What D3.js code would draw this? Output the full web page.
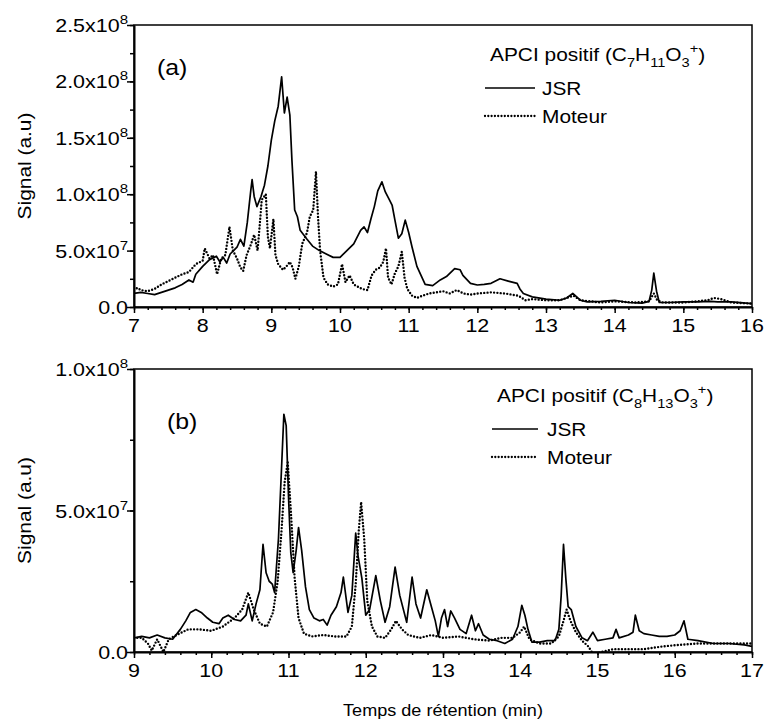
<!DOCTYPE html>
<html>
<head>
<meta charset="utf-8">
<script src="https://cdn.jsdelivr.net/npm/d3@7"></script>
<style>
  html, body { margin: 0; padding: 0; background: #fff; }
  svg text { font-family: "Liberation Sans", Arial, sans-serif; fill: #000; }
</style>
</head>
<body>
<div id="chart"></div>
<script>
// signal values are in units of 1e7 (a.u)
const jsrA = [[7.0,1.2],[7.1,1.3],[7.2,1.2],[7.3,1.1],[7.4,1.3],[7.5,1.5],[7.6,1.7],[7.7,2.0],[7.8,2.4],[7.86,2.2],[7.9,2.9],[8.0,3.6],[8.1,4.2],[8.2,4.5],[8.25,4.0],[8.3,4.4],[8.35,3.9],[8.4,4.7],[8.45,5.0],[8.5,5.3],[8.55,6.0],[8.6,5.4],[8.65,7.5],[8.7,10.3],[8.72,11.3],[8.75,9.8],[8.79,8.9],[8.85,9.8],[8.9,10.8],[8.95,12.5],[9.0,14.8],[9.05,16.5],[9.1,17.8],[9.15,20.4],[9.19,17.2],[9.23,18.6],[9.27,17.0],[9.3,13.0],[9.34,8.6],[9.38,8.0],[9.42,6.8],[9.47,6.4],[9.52,6.0],[9.6,5.4],[9.7,5.0],[9.8,4.7],[9.9,4.4],[10.0,4.4],[10.1,5.0],[10.2,5.6],[10.3,6.8],[10.35,7.1],[10.4,6.6],[10.45,7.8],[10.5,8.9],[10.55,10.3],[10.61,11.1],[10.66,10.2],[10.72,9.5],[10.76,9.0],[10.8,7.7],[10.85,6.1],[10.9,6.5],[10.95,7.7],[11.0,6.6],[11.05,5.3],[11.12,3.6],[11.24,2.0],[11.35,1.9],[11.46,2.4],[11.55,2.7],[11.67,3.4],[11.75,3.3],[11.79,2.8],[11.9,2.1],[12.0,1.95],[12.1,2.0],[12.2,2.1],[12.33,2.5],[12.45,2.3],[12.58,2.1],[12.62,1.6],[12.67,1.2],[12.8,0.9],[13.0,0.7],[13.2,0.6],[13.3,0.8],[13.39,1.2],[13.5,0.6],[13.6,0.45],[13.8,0.5],[14.0,0.6],[14.2,0.4],[14.4,0.35],[14.5,0.5],[14.54,1.5],[14.57,3.0],[14.61,1.4],[14.65,0.4],[14.8,0.4],[15.0,0.45],[15.2,0.45],[15.4,0.5],[15.5,0.45],[15.7,0.45],[16.0,0.3]];

const moteurA = [[7.0,1.5],[7.05,1.7],[7.1,1.5],[7.2,1.4],[7.3,1.6],[7.4,2.0],[7.5,2.3],[7.6,2.6],[7.7,2.9],[7.8,3.1],[7.9,3.8],[8.0,4.1],[8.03,5.2],[8.1,4.3],[8.15,4.6],[8.21,2.9],[8.27,4.3],[8.33,4.6],[8.39,7.1],[8.44,5.0],[8.5,4.3],[8.55,3.5],[8.59,3.2],[8.64,4.6],[8.7,5.5],[8.75,6.4],[8.8,5.0],[8.83,7.2],[8.86,9.5],[8.92,10.0],[8.95,6.2],[8.98,5.2],[9.03,7.8],[9.06,4.6],[9.1,3.8],[9.17,3.3],[9.22,3.6],[9.27,4.0],[9.31,3.5],[9.35,2.5],[9.4,3.6],[9.45,5.6],[9.52,6.6],[9.56,8.0],[9.61,8.6],[9.65,12.0],[9.68,8.0],[9.71,5.0],[9.76,2.6],[9.82,2.0],[9.9,1.8],[9.97,2.0],[10.03,3.8],[10.08,2.2],[10.14,2.8],[10.2,2.0],[10.26,1.8],[10.32,1.6],[10.4,1.5],[10.46,2.8],[10.52,3.3],[10.58,3.5],[10.63,4.0],[10.67,5.2],[10.7,2.6],[10.75,2.0],[10.8,3.0],[10.85,3.6],[10.9,4.9],[10.94,2.6],[10.98,1.6],[11.05,1.0],[11.12,0.8],[11.2,1.0],[11.3,1.2],[11.4,1.3],[11.5,1.4],[11.6,1.2],[11.7,1.5],[11.8,1.2],[11.9,1.1],[12.0,1.2],[12.2,1.3],[12.4,1.2],[12.6,1.0],[12.7,0.6],[12.8,0.7],[13.0,0.6],[13.2,0.6],[13.3,0.8],[13.4,1.0],[13.5,0.6],[13.8,0.4],[14.0,0.5],[14.3,0.4],[14.5,0.5],[14.57,1.2],[14.62,0.6],[14.7,0.4],[15.0,0.4],[15.2,0.5],[15.35,0.6],[15.45,0.8],[15.55,0.7],[15.7,0.4],[16.0,0.3]];

const jsrB = [[9.0,0.5],[9.1,0.55],[9.2,0.5],[9.3,0.6],[9.4,0.5],[9.5,0.45],[9.6,0.8],[9.67,1.1],[9.73,1.4],[9.8,1.5],[9.87,1.4],[9.95,1.2],[10.02,1.05],[10.1,1.0],[10.15,1.2],[10.22,1.3],[10.3,1.15],[10.38,1.1],[10.45,1.3],[10.48,1.7],[10.53,1.1],[10.58,1.7],[10.63,2.2],[10.67,3.8],[10.71,2.8],[10.75,2.5],[10.79,2.4],[10.82,2.1],[10.87,4.0],[10.91,6.5],[10.94,8.4],[10.97,8.0],[11.0,5.5],[11.03,3.5],[11.06,2.8],[11.1,3.6],[11.13,4.4],[11.17,3.6],[11.22,2.3],[11.27,1.5],[11.33,1.2],[11.4,1.1],[11.45,1.15],[11.5,0.95],[11.55,1.3],[11.62,1.6],[11.68,2.1],[11.71,2.65],[11.77,1.4],[11.82,2.0],[11.87,4.2],[11.9,3.4],[11.95,2.6],[12.0,1.3],[12.05,1.5],[12.13,2.7],[12.19,1.8],[12.25,1.05],[12.31,1.6],[12.38,3.0],[12.44,2.0],[12.53,1.05],[12.6,2.65],[12.65,1.7],[12.71,1.2],[12.79,2.2],[12.85,1.6],[12.9,1.1],[12.94,0.55],[12.98,1.2],[13.02,1.5],[13.06,0.9],[13.1,1.45],[13.15,1.2],[13.22,0.8],[13.3,0.65],[13.37,1.3],[13.42,0.75],[13.46,1.0],[13.52,0.6],[13.6,0.45],[13.7,0.4],[13.8,0.3],[13.9,0.45],[13.97,0.9],[14.02,1.65],[14.06,1.3],[14.1,0.8],[14.15,0.35],[14.25,0.35],[14.35,0.4],[14.45,0.4],[14.5,0.8],[14.53,2.0],[14.56,3.8],[14.59,2.6],[14.62,1.6],[14.66,1.5],[14.72,0.9],[14.8,0.5],[14.87,0.4],[14.94,0.7],[15.0,0.4],[15.1,0.45],[15.2,0.5],[15.24,0.8],[15.28,0.5],[15.4,0.6],[15.46,0.7],[15.49,1.3],[15.54,0.75],[15.6,0.65],[15.7,0.6],[15.8,0.55],[15.9,0.55],[16.0,0.6],[16.07,0.75],[16.12,1.1],[16.17,0.45],[16.3,0.4],[16.5,0.3],[16.7,0.3],[16.9,0.25],[17.0,0.2]];

const moteurB = [[9.0,0.5],[9.1,0.5],[9.18,0.3],[9.23,0.05],[9.3,0.45],[9.38,0.0],[9.45,0.45],[9.55,0.6],[9.7,0.8],[9.85,0.8],[10.0,0.75],[10.15,0.9],[10.3,1.2],[10.4,1.5],[10.48,2.1],[10.55,1.5],[10.63,1.0],[10.72,0.9],[10.8,1.4],[10.86,2.5],[10.91,4.3],[10.95,6.0],[10.99,6.7],[11.03,5.0],[11.08,2.6],[11.13,1.2],[11.2,0.65],[11.3,0.55],[11.45,0.6],[11.6,0.55],[11.75,0.55],[11.82,0.9],[11.87,2.4],[11.91,4.3],[11.94,5.3],[11.98,4.0],[12.02,1.8],[12.08,0.9],[12.15,0.55],[12.25,0.5],[12.33,0.8],[12.39,1.1],[12.47,0.8],[12.55,0.6],[12.7,0.5],[12.85,0.6],[13.0,0.5],[13.2,0.55],[13.4,0.45],[13.6,0.4],[13.75,0.5],[13.9,0.5],[14.0,0.7],[14.05,0.9],[14.12,0.45],[14.25,0.3],[14.4,0.3],[14.5,0.55],[14.56,1.1],[14.6,1.5],[14.65,1.1],[14.72,0.7],[14.8,0.4],[14.88,0.2],[14.95,-0.1],[15.05,0.0],[15.2,0.1],[15.4,0.1],[15.6,0.1],[15.85,0.2],[16.05,0.25],[16.3,0.3],[16.6,0.3],[17.0,0.3]];

// tick labels
const xTicksA = [7, 8, 9, 10, 11, 12, 13, 14, 15, 16];
const yTicksA = [[0, '0.0', ''], [5, '5.0x10', '7'], [10, '1.0x10', '8'], [15, '1.5x10', '8'], [20, '2.0x10', '8'], [25, '2.5x10', '8']];
const xTicksB = [9, 10, 11, 12, 13, 14, 15, 16, 17];
const yTicksB = [[0, '0.0', ''], [5, '5.0x10', '7'], [10, '1.0x10', '8']];

const W = 764, H = 725;
const SX = 1.13; // the source font is slightly stretched horizontally

const svg = d3.select('#chart').append('svg')
  .attr('width', W).attr('height', H);

// 文本（支持上下标）
function addText(parent, x, y, parts, size, anchor) {
  const t = parent.append('text')
    .attr('transform', `translate(${x},${y}) scale(${SX},1)`)
    .attr('text-anchor', anchor || 'start')
    .style('font-size', size + 'px');
  let cur = 0;
  parts.forEach(([s, k]) => {
    const off = k === 'sub' ? size * 0.3 : k === 'sup' ? -size * 0.42 : 0;
    t.append('tspan')
      .attr('dy', off - cur)
      .style('font-size', k ? (size * 0.7) + 'px' : null)
      .text(s);
    cur = off;
  });
  return t;
}

function drawPanel(cfg) {
  const x = d3.scaleLinear().domain(cfg.xDomain).range([134, 752]);
  const y = d3.scaleLinear().domain(cfg.yDomain).range([cfg.bottom, cfg.top]);
  const g = svg.append('g');

  const clipId = 'clip-' + cfg.name;
  svg.append('clipPath').attr('id', clipId)
    .append('rect')
    .attr('x', 134).attr('y', cfg.top)
    .attr('width', 618).attr('height', cfg.bottom - cfg.top);

  const line = d3.line().x(d => x(d[0])).y(d => y(d[1]));

  // 曲线
  g.append('path').datum(cfg.moteur)
    .attr('clip-path', `url(#${clipId})`)
    .attr('d', line)
    .attr('fill', 'none').attr('stroke', '#000')
    .attr('stroke-width', 2.4)
    .attr('stroke-linecap', 'round')
    .attr('stroke-dasharray', '0,3.3');

  g.append('path').datum(cfg.jsr)
    .attr('clip-path', `url(#${clipId})`)
    .attr('d', line)
    .attr('fill', 'none').attr('stroke', '#000')
    .attr('stroke-width', 1.7)
    .attr('stroke-linejoin', 'round');

  // 边框
  g.append('rect')
    .attr('x', 134).attr('y', cfg.top)
    .attr('width', 618).attr('height', cfg.bottom - cfg.top)
    .attr('fill', 'none').attr('stroke', '#000').attr('stroke-width', 1.5);

  // X轴
  const xMinor = d3.range(cfg.xDomain[0], cfg.xDomain[1] + 0.001, 0.2).map(v => +v.toFixed(1));
  g.append('g')
    .attr('transform', `translate(0,${cfg.bottom})`)
    .call(d3.axisBottom(x).tickValues(xMinor).tickSize(3).tickFormat('').tickSizeOuter(0))
    .call(a => a.select('.domain').remove());
  g.append('g')
    .attr('transform', `translate(0,${cfg.bottom})`)
    .call(d3.axisBottom(x).tickValues(cfg.xTicks).tickSize(6).tickFormat('').tickSizeOuter(0))
    .call(a => a.select('.domain').attr('stroke-width', 2));
  g.selectAll('.tick line').attr('stroke-width', 1.5);

  // Y轴
  const yMinor = d3.range(cfg.yDomain[0], cfg.yDomain[1] + 0.001, 2.5);
  g.append('g')
    .attr('transform', 'translate(134,0)')
    .call(d3.axisLeft(y).tickValues(yMinor).tickSize(4).tickFormat('').tickSizeOuter(0))
    .call(a => a.select('.domain').remove());
  g.append('g')
    .attr('transform', 'translate(134,0)')
    .call(d3.axisLeft(y).tickValues(cfg.yTicks.map(d => d[0])).tickSize(7).tickFormat('').tickSizeOuter(0))
    .call(a => a.select('.domain').attr('stroke-width', 2));
  g.selectAll('.tick line').attr('stroke-width', 1.5);

  // 刻度标签
  cfg.xTicks.forEach(v => {
    addText(g, x(v), cfg.bottom + 25, [[String(v), '']], 19, 'middle');
  });
  cfg.yTicks.forEach(([v, base, exp]) => {
    const parts = exp ? [[base, ''], [exp, 'sup']] : [[base, '']];
    addText(g, 128, y(v) + 7, parts, 19, 'end');
  });

  // 轴标题
  g.append('text')
    .attr('transform', `translate(31,${(cfg.top + cfg.bottom) / 2}) rotate(-90) scale(${SX},1)`)
    .attr('text-anchor', 'middle')
    .style('font-size', '18.5px')
    .text('Signal (a.u)');

  // 面板标记
  addText(g, cfg.tagX, cfg.tagY, [[cfg.tag, '']], 22, 'start');

  // 图例
  const L = cfg.legend;
  addText(g, L.x, L.y, cfg.title, 18.5, 'start');
  g.append('line')
    .attr('x1', L.lx1).attr('x2', L.lx2)
    .attr('y1', L.y + 27).attr('y2', L.y + 27)
    .attr('stroke', '#000').attr('stroke-width', 1.7);
  addText(g, L.tx, L.y + 34, [['JSR', '']], 18.5, 'start');
  g.append('line')
    .attr('x1', L.lx1).attr('x2', L.lx2)
    .attr('y1', L.y + 55).attr('y2', L.y + 55)
    .attr('stroke', '#000').attr('stroke-width', 2.3)
    .attr('stroke-linecap', 'round')
    .attr('stroke-dasharray', '0,3.3');
  addText(g, L.tx, L.y + 62, [['Moteur', '']], 18.5, 'start');
}

drawPanel({
  name: 'a', top: 25, bottom: 307,
  xDomain: [7, 16], yDomain: [0, 25],
  xTicks: xTicksA, yTicks: yTicksA,
  jsr: jsrA, moteur: moteurA,
  tag: '(a)', tagX: 157, tagY: 75,
  title: [['APCI positif (C', ''], ['7', 'sub'], ['H', ''], ['11', 'sub'], ['O', ''], ['3', 'sub'], ['+', 'sup'], [')', '']],
  legend: { x: 490, y: 61, lx1: 485, lx2: 535, tx: 542 }
});

drawPanel({
  name: 'b', top: 369, bottom: 652,
  xDomain: [9, 17], yDomain: [0, 10],
  xTicks: xTicksB, yTicks: yTicksB,
  jsr: jsrB, moteur: moteurB,
  tag: '(b)', tagX: 167, tagY: 429,
  title: [['APCI positif (C', ''], ['8', 'sub'], ['H', ''], ['13', 'sub'], ['O', ''], ['3', 'sub'], ['+', 'sup'], [')', '']],
  legend: { x: 497, y: 402, lx1: 492, lx2: 538, tx: 547 }
});

// X轴标题
svg.append('text')
  .attr('transform', `translate(443,716) scale(${SX},1)`)
  .attr('text-anchor', 'middle')
  .style('font-size', '16px')
  .text('Temps de rétention (min)');
</script>
</body>
</html>
